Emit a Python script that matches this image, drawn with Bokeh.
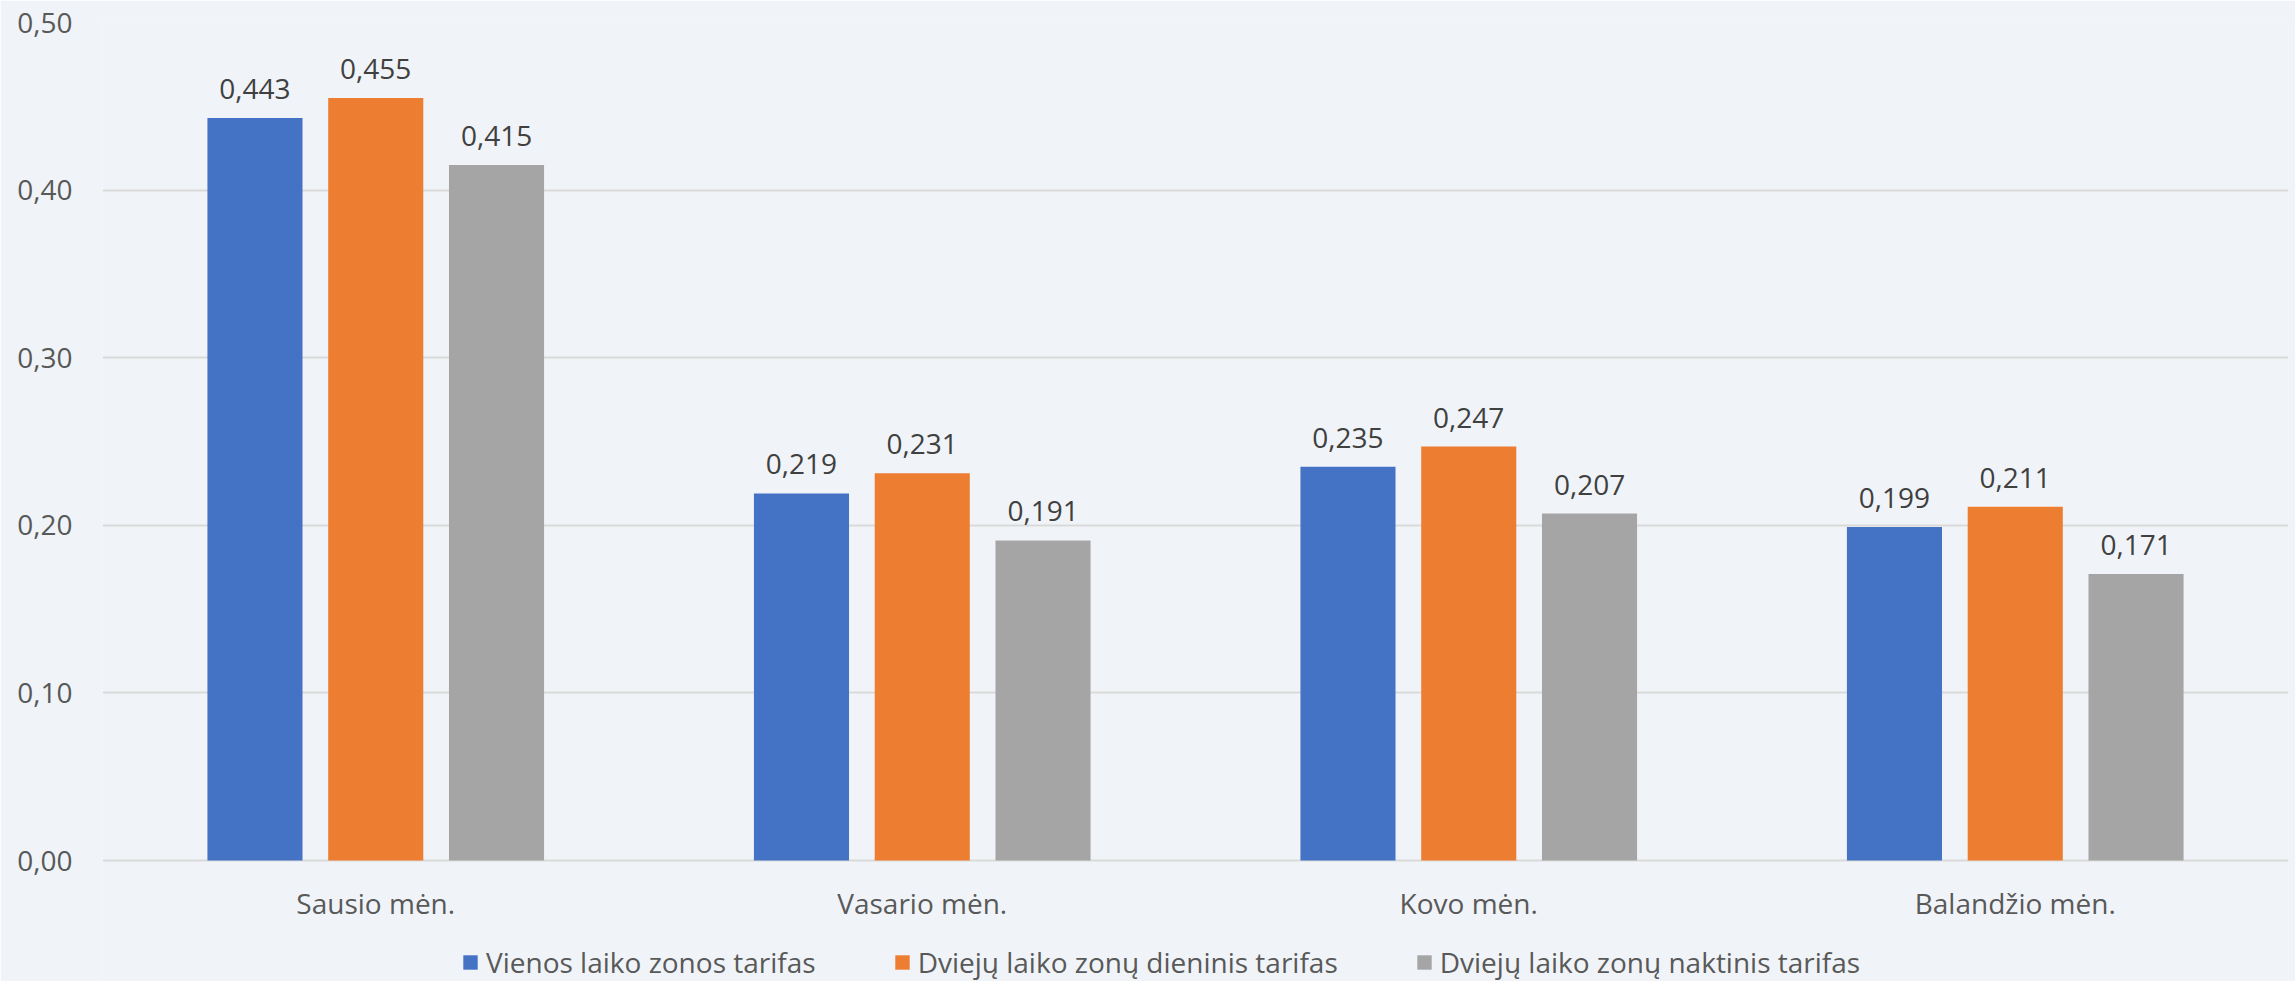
from bokeh.plotting import figure
from bokeh.models import (ColumnDataSource, FactorRange, Range1d, FixedTicker, LabelSet,
                          Legend, LegendItem)
from bokeh.core.properties import value
from bokeh.transform import dodge
from bokeh.embed import file_html
from bokeh.resources import INLINE

months = ["Sausio mėn.", "Vasario mėn.", "Kovo mėn.", "Balandžio mėn."]
series_names = ["Vienos laiko zonos tarifas", "Dviejų laiko zonų dieninis tarifas",
                "Dviejų laiko zonų naktinis tarifas"]
vienos = [0.443, 0.219, 0.235, 0.199]
dieninis = [0.455, 0.231, 0.247, 0.211]
naktinis = [0.415, 0.191, 0.207, 0.171]
y_ticks = [0.0, 0.1, 0.2, 0.3, 0.4, 0.5]
y_tick_labels = ["0,00", "0,10", "0,20", "0,30", "0,40", "0,50"]

colors = ["#4472C4", "#ED7D31", "#A5A5A5"]
BG = "#F0F4F8"
FONT = "Open Sans"


def fmt(v):
    return f"{v:.3f}".replace(".", ",")


src = ColumnDataSource(dict(
    cat=months, zero=[0.0] * len(months),
    v1=vienos, v2=dieninis, v3=naktinis,
    t1=[fmt(v) for v in vienos], t2=[fmt(v) for v in dieninis], t3=[fmt(v) for v in naktinis],
))

# frame spans from y=22 to the bottom of the page; 0 sits at y=860, 0.5 at y=22
y_bottom = -(981 - 860) / ((860 - 22) / 0.5)
p = figure(width=2295, height=981, x_range=FactorRange(*months), y_range=Range1d(y_bottom, 0.5),
           output_backend="svg", toolbar_location=None,
           min_border_left=102, min_border_right=7, min_border_top=22, min_border_bottom=0)
p.background_fill_color = BG
p.border_fill_color = BG
p.outline_line_color = None

offsets = [-0.221, 0.0, 0.221]
bw = 0.174
renderers = []
for i, (vc, tc) in enumerate([("v1", "t1"), ("v2", "t2"), ("v3", "t3")]):
    r = p.vbar(x=dodge("cat", offsets[i], range=p.x_range), top=vc, bottom=0, width=bw, source=src,
               fill_color=colors[i], line_color=None)
    renderers.append(r)
    lab = LabelSet(x=dodge("cat", offsets[i], range=p.x_range), y=vc, text=tc, source=src,
                   text_align="center", text_baseline="alphabetic", y_offset=19,
                   text_font=value(FONT), text_font_size=value("28px"), text_color="#404040")
    p.add_layout(lab)

# category labels under the zero line
cat_labels = LabelSet(x="cat", y="zero", text="cat", source=src, text_align="center",
                      text_baseline="alphabetic", y_offset=-53,
                      text_font=value(FONT), text_font_size=value("28px"), text_color="#595959")
p.add_layout(cat_labels)

# axes
p.yaxis.ticker = FixedTicker(ticks=y_ticks)
p.yaxis.major_label_overrides = {t: l for t, l in zip(y_ticks, y_tick_labels)}
p.yaxis.axis_line_color = None
p.yaxis.major_tick_line_color = None
p.yaxis.minor_tick_line_color = None
p.yaxis.major_tick_out = 0
p.yaxis.major_label_standoff = 30
p.yaxis.major_label_text_font = FONT
p.yaxis.major_label_text_font_size = "28px"
p.yaxis.major_label_text_color = "#595959"

p.xaxis.visible = False

p.xgrid.grid_line_color = None
p.ygrid.grid_line_color = "#D9D9D9"
p.ygrid.grid_line_width = 2
p.ygrid.ticker = FixedTicker(ticks=y_ticks)

legend = Legend(items=[LegendItem(label=n, renderers=[r]) for n, r in zip(series_names, renderers)],
                orientation="horizontal", location=(359, 0),
                glyph_width=18, glyph_height=18, label_standoff=7, spacing=77,
                padding=0, margin=0, border_line_color=None, background_fill_alpha=0,
                label_text_font=FONT, label_text_font_size="28px", label_text_color="#595959")
p.add_layout(legend, "center")

open("out.html", "w").write(file_html(p, INLINE))
